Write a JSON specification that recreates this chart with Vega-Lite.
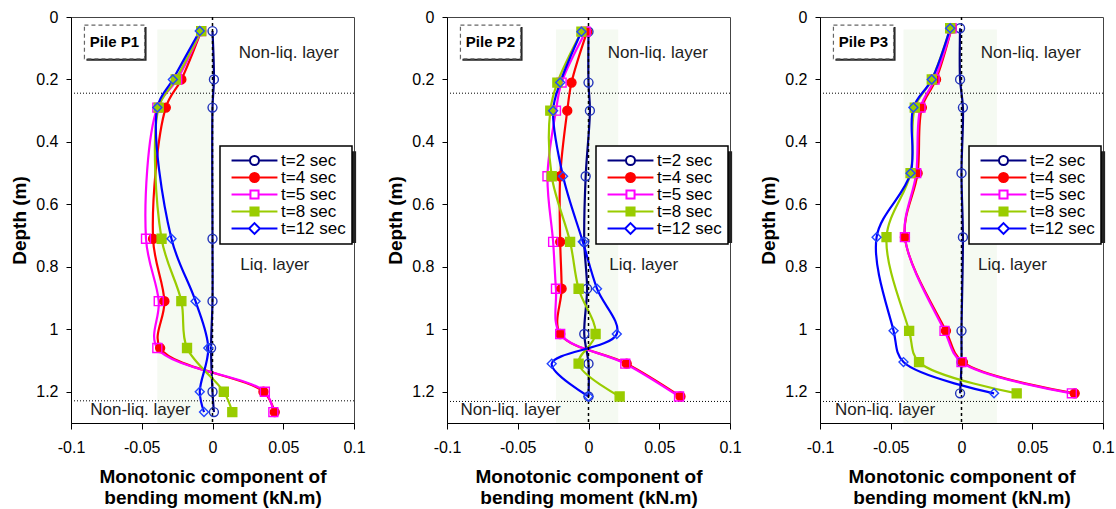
{
 "$schema": "https://vega.github.io/schema/vega-lite/v6.json",
 "padding": {"left": 10, "top": 8, "right": 0, "bottom": 0},
 "datasets": {"d": [
  {"pile":"P1","t":"t=2 sec","depth":0.045,"m":0},{"pile":"P1","t":"t=2 sec","depth":0.2,"m":0.001},{"pile":"P1","t":"t=2 sec","depth":0.29,"m":0},{"pile":"P1","t":"t=2 sec","depth":0.71,"m":0},{"pile":"P1","t":"t=2 sec","depth":0.91,"m":0},{"pile":"P1","t":"t=2 sec","depth":1.06,"m":-0.001},{"pile":"P1","t":"t=2 sec","depth":1.2,"m":0},{"pile":"P1","t":"t=2 sec","depth":1.265,"m":0.001},
  {"pile":"P1","t":"t=4 sec","depth":0.045,"m":-0.008},{"pile":"P1","t":"t=4 sec","depth":0.2,"m":-0.022},{"pile":"P1","t":"t=4 sec","depth":0.29,"m":-0.033},{"pile":"P1","t":"t=4 sec","depth":0.71,"m":-0.042},{"pile":"P1","t":"t=4 sec","depth":0.91,"m":-0.034},{"pile":"P1","t":"t=4 sec","depth":1.06,"m":-0.037},{"pile":"P1","t":"t=4 sec","depth":1.2,"m":0.036},{"pile":"P1","t":"t=4 sec","depth":1.265,"m":0.044},
  {"pile":"P1","t":"t=5 sec","depth":0.045,"m":-0.008},{"pile":"P1","t":"t=5 sec","depth":0.2,"m":-0.025},{"pile":"P1","t":"t=5 sec","depth":0.29,"m":-0.039},{"pile":"P1","t":"t=5 sec","depth":0.71,"m":-0.047},{"pile":"P1","t":"t=5 sec","depth":0.91,"m":-0.038},{"pile":"P1","t":"t=5 sec","depth":1.06,"m":-0.039},{"pile":"P1","t":"t=5 sec","depth":1.2,"m":0.037},{"pile":"P1","t":"t=5 sec","depth":1.265,"m":0.043},
  {"pile":"P1","t":"t=8 sec","depth":0.045,"m":-0.008},{"pile":"P1","t":"t=8 sec","depth":0.2,"m":-0.026},{"pile":"P1","t":"t=8 sec","depth":0.29,"m":-0.038},{"pile":"P1","t":"t=8 sec","depth":0.71,"m":-0.036},{"pile":"P1","t":"t=8 sec","depth":0.91,"m":-0.022},{"pile":"P1","t":"t=8 sec","depth":1.06,"m":-0.018},{"pile":"P1","t":"t=8 sec","depth":1.2,"m":0.008},{"pile":"P1","t":"t=8 sec","depth":1.265,"m":0.014},
  {"pile":"P1","t":"t=12 sec","depth":0.045,"m":-0.009},{"pile":"P1","t":"t=12 sec","depth":0.2,"m":-0.028},{"pile":"P1","t":"t=12 sec","depth":0.29,"m":-0.039},{"pile":"P1","t":"t=12 sec","depth":0.71,"m":-0.029},{"pile":"P1","t":"t=12 sec","depth":0.91,"m":-0.012},{"pile":"P1","t":"t=12 sec","depth":1.06,"m":-0.003},{"pile":"P1","t":"t=12 sec","depth":1.2,"m":-0.009},{"pile":"P1","t":"t=12 sec","depth":1.265,"m":-0.006},
  {"pile":"P2","t":"t=2 sec","depth":0.047,"m":0},{"pile":"P2","t":"t=2 sec","depth":0.21,"m":0},{"pile":"P2","t":"t=2 sec","depth":0.3,"m":0.001},{"pile":"P2","t":"t=2 sec","depth":0.51,"m":-0.002},{"pile":"P2","t":"t=2 sec","depth":0.72,"m":-0.003},{"pile":"P2","t":"t=2 sec","depth":0.87,"m":-0.001},{"pile":"P2","t":"t=2 sec","depth":1.015,"m":-0.003},{"pile":"P2","t":"t=2 sec","depth":1.11,"m":0},{"pile":"P2","t":"t=2 sec","depth":1.215,"m":0},
  {"pile":"P2","t":"t=4 sec","depth":0.047,"m":-0.001},{"pile":"P2","t":"t=4 sec","depth":0.21,"m":-0.012},{"pile":"P2","t":"t=4 sec","depth":0.3,"m":-0.015},{"pile":"P2","t":"t=4 sec","depth":0.51,"m":-0.02},{"pile":"P2","t":"t=4 sec","depth":0.72,"m":-0.02},{"pile":"P2","t":"t=4 sec","depth":0.87,"m":-0.019},{"pile":"P2","t":"t=4 sec","depth":1.015,"m":-0.02},{"pile":"P2","t":"t=4 sec","depth":1.11,"m":0.027},{"pile":"P2","t":"t=4 sec","depth":1.215,"m":0.065},
  {"pile":"P2","t":"t=5 sec","depth":0.047,"m":-0.002},{"pile":"P2","t":"t=5 sec","depth":0.21,"m":-0.019},{"pile":"P2","t":"t=5 sec","depth":0.3,"m":-0.023},{"pile":"P2","t":"t=5 sec","depth":0.51,"m":-0.029},{"pile":"P2","t":"t=5 sec","depth":0.72,"m":-0.025},{"pile":"P2","t":"t=5 sec","depth":0.87,"m":-0.023},{"pile":"P2","t":"t=5 sec","depth":1.015,"m":-0.02},{"pile":"P2","t":"t=5 sec","depth":1.11,"m":0.026},{"pile":"P2","t":"t=5 sec","depth":1.215,"m":0.064},
  {"pile":"P2","t":"t=8 sec","depth":0.047,"m":-0.005},{"pile":"P2","t":"t=8 sec","depth":0.21,"m":-0.022},{"pile":"P2","t":"t=8 sec","depth":0.3,"m":-0.027},{"pile":"P2","t":"t=8 sec","depth":0.51,"m":-0.026},{"pile":"P2","t":"t=8 sec","depth":0.72,"m":-0.013},{"pile":"P2","t":"t=8 sec","depth":0.87,"m":-0.007},{"pile":"P2","t":"t=8 sec","depth":1.015,"m":0.005},{"pile":"P2","t":"t=8 sec","depth":1.11,"m":-0.007},{"pile":"P2","t":"t=8 sec","depth":1.215,"m":0.022},
  {"pile":"P2","t":"t=12 sec","depth":0.047,"m":-0.005},{"pile":"P2","t":"t=12 sec","depth":0.21,"m":-0.02},{"pile":"P2","t":"t=12 sec","depth":0.3,"m":-0.025},{"pile":"P2","t":"t=12 sec","depth":0.51,"m":-0.018},{"pile":"P2","t":"t=12 sec","depth":0.72,"m":-0.004},{"pile":"P2","t":"t=12 sec","depth":0.87,"m":0.006},{"pile":"P2","t":"t=12 sec","depth":1.015,"m":0.02},{"pile":"P2","t":"t=12 sec","depth":1.11,"m":-0.026},{"pile":"P2","t":"t=12 sec","depth":1.215,"m":0},
  {"pile":"P3","t":"t=2 sec","depth":0.036,"m":-0.001},{"pile":"P3","t":"t=2 sec","depth":0.2,"m":-0.001},{"pile":"P3","t":"t=2 sec","depth":0.29,"m":0.001},{"pile":"P3","t":"t=2 sec","depth":0.5,"m":0},{"pile":"P3","t":"t=2 sec","depth":0.705,"m":0.001},{"pile":"P3","t":"t=2 sec","depth":1.005,"m":0},{"pile":"P3","t":"t=2 sec","depth":1.105,"m":0},{"pile":"P3","t":"t=2 sec","depth":1.205,"m":-0.001},
  {"pile":"P3","t":"t=4 sec","depth":0.036,"m":-0.007},{"pile":"P3","t":"t=4 sec","depth":0.2,"m":-0.018},{"pile":"P3","t":"t=4 sec","depth":0.29,"m":-0.028},{"pile":"P3","t":"t=4 sec","depth":0.5,"m":-0.031},{"pile":"P3","t":"t=4 sec","depth":0.705,"m":-0.04},{"pile":"P3","t":"t=4 sec","depth":1.005,"m":-0.011},{"pile":"P3","t":"t=4 sec","depth":1.105,"m":0.001},{"pile":"P3","t":"t=4 sec","depth":1.205,"m":0.08},
  {"pile":"P3","t":"t=5 sec","depth":0.036,"m":-0.007},{"pile":"P3","t":"t=5 sec","depth":0.2,"m":-0.019},{"pile":"P3","t":"t=5 sec","depth":0.29,"m":-0.029},{"pile":"P3","t":"t=5 sec","depth":0.5,"m":-0.032},{"pile":"P3","t":"t=5 sec","depth":0.705,"m":-0.04},{"pile":"P3","t":"t=5 sec","depth":1.005,"m":-0.012},{"pile":"P3","t":"t=5 sec","depth":1.105,"m":0},{"pile":"P3","t":"t=5 sec","depth":1.205,"m":0.078},
  {"pile":"P3","t":"t=8 sec","depth":0.036,"m":-0.008},{"pile":"P3","t":"t=8 sec","depth":0.2,"m":-0.021},{"pile":"P3","t":"t=8 sec","depth":0.29,"m":-0.033},{"pile":"P3","t":"t=8 sec","depth":0.5,"m":-0.036},{"pile":"P3","t":"t=8 sec","depth":0.705,"m":-0.053},{"pile":"P3","t":"t=8 sec","depth":1.005,"m":-0.037},{"pile":"P3","t":"t=8 sec","depth":1.105,"m":-0.03},{"pile":"P3","t":"t=8 sec","depth":1.205,"m":0.039},
  {"pile":"P3","t":"t=12 sec","depth":0.036,"m":-0.008},{"pile":"P3","t":"t=12 sec","depth":0.2,"m":-0.021},{"pile":"P3","t":"t=12 sec","depth":0.29,"m":-0.034},{"pile":"P3","t":"t=12 sec","depth":0.5,"m":-0.036},{"pile":"P3","t":"t=12 sec","depth":0.705,"m":-0.06},{"pile":"P3","t":"t=12 sec","depth":1.005,"m":-0.048},{"pile":"P3","t":"t=12 sec","depth":1.105,"m":-0.041},{"pile":"P3","t":"t=12 sec","depth":1.205,"m":0.023}
 ]},
 "spacing": 20,
 "resolve": {"scale": {"color": "independent"}},
 "hconcat": [
  {
   "width": 283, "height": 406,
   "layer": [
    {"data": {"values": [{}]}, "mark": {"type": "rect", "fill": "#f5faf2"},
     "encoding": {
      "x": {"datum": -0.039, "type": "quantitative", "scale": {"domain": [-0.1, 0.1], "nice": false, "zero": false}, "axis": {"values": [-0.1, -0.05, 0, 0.05, 0.1], "labelExpr": "'' + datum.value", "title": ["Monotonic component of", "bending moment (kN.m)"]}},
      "x2": {"datum": 0},
      "y": {"datum": 0.04, "type": "quantitative", "scale": {"domain": [0, 1.3], "nice": false, "zero": false, "reverse": true}, "axis": {"values": [0, 0.2, 0.4, 0.6, 0.8, 1, 1.2], "labelExpr": "'' + datum.value", "title": "Depth (m)"}},
      "y2": {"datum": 1.3}}},
    {"data": {"values": [{}]}, "mark": {"type": "rule", "color": "black", "strokeDash": [1, 2], "strokeWidth": 1}, "encoding": {"y": {"datum": 0.244}}},
    {"data": {"values": [{}]}, "mark": {"type": "rule", "color": "black", "strokeDash": [1, 2], "strokeWidth": 1}, "encoding": {"y": {"datum": 1.229}}},
    {"data": {"name": "d"}, "transform": [{"filter": "datum.pile == 'P1'"}],
     "mark": {"type": "line", "interpolate": "catmull-rom", "strokeWidth": 2.2},
     "encoding": {
      "x": {"field": "m", "type": "quantitative"},
      "y": {"field": "depth", "type": "quantitative"},
      "order": {"field": "depth", "type": "quantitative"},
      "color": {"field": "t", "type": "nominal", "sort": null,
       "scale": {"domain": ["t=2 sec", "t=4 sec", "t=5 sec", "t=8 sec", "t=12 sec"], "range": ["#000080", "#ff0000", "#ff00ff", "#99cc00", "#0000ff"]},
       "legend": {"orient": "none", "legendX": 149, "legendY": 129, "title": null, "fillColor": "white", "strokeColor": "black", "padding": 6,
        "labelFont": "Liberation Sans", "labelFontSize": 17, "labelColor": "black", "symbolSize": 81, "symbolStrokeWidth": 2, "symbolOffset": 20, "labelOffset": 18, "rowPadding": -1,
        "encode": {"legend": {"update": {"strokeWidth": {"value": 1.5}}},
         "symbols": {"update": {
          "shape": {"signal": "datum.value === 't=2 sec' ? 'M-5.1,0H-1M1,0H5.1M1,0A1,1 0 1,1 -1,0A1,1 0 1,1 1,0Z' : datum.value === 't=4 sec' ? 'M-5.1,0H5.1M1,0A1,1 0 1,1 -1,0A1,1 0 1,1 1,0Z' : datum.value === 't=5 sec' ? 'M-5.1,0H-0.9M0.9,0H5.1M-0.9,-0.9H0.9V0.9H-0.9Z' : datum.value === 't=8 sec' ? 'M-5.1,0H5.1M-0.9,-0.9H0.9V0.9H-0.9Z' : 'M-5.1,0H-1.2M1.2,0H5.1M0,-1.2L1.2,0L0,1.2L-1.2,0Z'"},
          "fill": {"signal": "datum.value === 't=4 sec' ? '#ff0000' : datum.value === 't=8 sec' ? '#99cc00' : 'white'"}}}}}}}},
    {"data": {"values": [{}]}, "mark": {"type": "rule", "color": "black", "strokeDash": [3, 3], "strokeWidth": 1.5}, "encoding": {"x": {"datum": 0}}},
    {"data": {"name": "d"}, "transform": [{"filter": "datum.pile == 'P1'"}],
     "mark": {"type": "point", "size": 80, "strokeWidth": 1.4, "opacity": 1},
     "encoding": {
      "x": {"field": "m", "type": "quantitative"},
      "y": {"field": "depth", "type": "quantitative"},
      "shape": {"field": "t", "type": "nominal", "scale": {"domain": ["t=2 sec", "t=4 sec", "t=5 sec", "t=8 sec", "t=12 sec"], "range": ["circle", "circle", "square", "square", "diamond"]}, "legend": null},
      "stroke": {"field": "t", "type": "nominal", "scale": {"domain": ["t=2 sec", "t=4 sec", "t=5 sec", "t=8 sec", "t=12 sec"], "range": ["#2233bb", "#ff0000", "#ff00ff", "#99cc00", "#2244ff"]}, "legend": null},
      "fill": {"field": "t", "type": "nominal", "scale": {"domain": ["t=2 sec", "t=4 sec", "t=5 sec", "t=8 sec", "t=12 sec"], "range": ["transparent", "#ff0000", "transparent", "#99cc00", "transparent"]}, "legend": null}}},
    {"data": {"values": [{}]}, "mark": {"type": "rect", "fill": "#222"}, "encoding": {"x": {"datum": 0.006}, "x2": {"datum": 0.1015}, "y": {"datum": 0.43}, "y2": {"datum": 0.7237}}},
    {"data": {"values": [{}]}, "mark": {"type": "rect", "fill": "#222"}, "encoding": {"x": {"datum": -0.0891}, "x2": {"datum": -0.0466}, "y": {"datum": 0.0324}, "y2": {"datum": 0.1404}}},
    {"data": {"values": [{}]}, "mark": {"type": "rect", "fill": "white", "stroke": "#666", "strokeDash": [4, 3], "strokeWidth": 1.2}, "encoding": {"x": {"datum": -0.0905}, "x2": {"datum": -0.048}, "y": {"datum": 0.026}, "y2": {"datum": 0.134}}},
    {"data": {"values": [{}]}, "mark": {"type": "text", "text": "Pile P1", "font": "Liberation Sans", "fontSize": 15, "fontWeight": "bold", "color": "black"}, "encoding": {"x": {"datum": -0.0693}, "y": {"datum": 0.08}}},
    {"data": {"values": [{}]}, "mark": {"type": "text", "text": "Non-liq. layer", "font": "Liberation Sans", "fontSize": 17, "color": "#222"}, "encoding": {"x": {"datum": 0.054}, "y": {"datum": 0.115}}},
    {"data": {"values": [{}]}, "mark": {"type": "text", "text": "Liq. layer", "font": "Liberation Sans", "fontSize": 17, "color": "#222"}, "encoding": {"x": {"datum": 0.044}, "y": {"datum": 0.794}}},
    {"data": {"values": [{}]}, "mark": {"type": "text", "text": "Non-liq. layer", "font": "Liberation Sans", "fontSize": 17, "color": "#222"}, "encoding": {"x": {"datum": -0.051}, "y": {"datum": 1.258}}}
   ]
  },
  {
   "spacing": 17,
   "resolve": {"scale": {"color": "independent"}},
   "hconcat": [
    {
     "width": 283, "height": 406,
     "layer": [
      {"data": {"values": [{}]}, "mark": {"type": "rect", "fill": "#f5faf2"},
       "encoding": {
        "x": {"datum": -0.023, "type": "quantitative", "scale": {"domain": [-0.1, 0.1], "nice": false, "zero": false}, "axis": {"values": [-0.1, -0.05, 0, 0.05, 0.1], "labelExpr": "'' + datum.value", "title": ["Monotonic component of", "bending moment (kN.m)"]}},
        "x2": {"datum": 0.021},
        "y": {"datum": 0.04, "type": "quantitative", "scale": {"domain": [0, 1.3], "nice": false, "zero": false, "reverse": true}, "axis": {"values": [0, 0.2, 0.4, 0.6, 0.8, 1, 1.2], "labelExpr": "'' + datum.value", "title": "Depth (m)"}},
        "y2": {"datum": 1.3}}},
      {"data": {"values": [{}]}, "mark": {"type": "rule", "color": "black", "strokeDash": [1, 2], "strokeWidth": 1}, "encoding": {"y": {"datum": 0.244}}},
      {"data": {"values": [{}]}, "mark": {"type": "rule", "color": "black", "strokeDash": [1, 2], "strokeWidth": 1}, "encoding": {"y": {"datum": 1.231}}},
      {"data": {"name": "d"}, "transform": [{"filter": "datum.pile == 'P2'"}],
       "mark": {"type": "line", "interpolate": "catmull-rom", "strokeWidth": 2.2},
       "encoding": {
        "x": {"field": "m", "type": "quantitative"},
        "y": {"field": "depth", "type": "quantitative"},
        "order": {"field": "depth", "type": "quantitative"},
        "color": {"field": "t", "type": "nominal", "sort": null,
         "scale": {"domain": ["t=2 sec", "t=4 sec", "t=5 sec", "t=8 sec", "t=12 sec"], "range": ["#000080", "#ff0000", "#ff00ff", "#99cc00", "#0000ff"]},
         "legend": {"orient": "none", "legendX": 149, "legendY": 129, "title": null, "fillColor": "white", "strokeColor": "black", "padding": 6,
          "labelFont": "Liberation Sans", "labelFontSize": 17, "labelColor": "black", "symbolSize": 81, "symbolStrokeWidth": 2, "symbolOffset": 20, "labelOffset": 18, "rowPadding": -1,
          "encode": {"legend": {"update": {"strokeWidth": {"value": 1.5}}},
           "symbols": {"update": {
            "shape": {"signal": "datum.value === 't=2 sec' ? 'M-5.1,0H-1M1,0H5.1M1,0A1,1 0 1,1 -1,0A1,1 0 1,1 1,0Z' : datum.value === 't=4 sec' ? 'M-5.1,0H5.1M1,0A1,1 0 1,1 -1,0A1,1 0 1,1 1,0Z' : datum.value === 't=5 sec' ? 'M-5.1,0H-0.9M0.9,0H5.1M-0.9,-0.9H0.9V0.9H-0.9Z' : datum.value === 't=8 sec' ? 'M-5.1,0H5.1M-0.9,-0.9H0.9V0.9H-0.9Z' : 'M-5.1,0H-1.2M1.2,0H5.1M0,-1.2L1.2,0L0,1.2L-1.2,0Z'"},
            "fill": {"signal": "datum.value === 't=4 sec' ? '#ff0000' : datum.value === 't=8 sec' ? '#99cc00' : 'white'"}}}}}}}},
      {"data": {"values": [{}]}, "mark": {"type": "rule", "color": "black", "strokeDash": [3, 3], "strokeWidth": 1.5}, "encoding": {"x": {"datum": 0}}},
      {"data": {"name": "d"}, "transform": [{"filter": "datum.pile == 'P2'"}],
       "mark": {"type": "point", "size": 80, "strokeWidth": 1.4, "opacity": 1},
       "encoding": {
        "x": {"field": "m", "type": "quantitative"},
        "y": {"field": "depth", "type": "quantitative"},
        "shape": {"field": "t", "type": "nominal", "scale": {"domain": ["t=2 sec", "t=4 sec", "t=5 sec", "t=8 sec", "t=12 sec"], "range": ["circle", "circle", "square", "square", "diamond"]}, "legend": null},
        "stroke": {"field": "t", "type": "nominal", "scale": {"domain": ["t=2 sec", "t=4 sec", "t=5 sec", "t=8 sec", "t=12 sec"], "range": ["#2233bb", "#ff0000", "#ff00ff", "#99cc00", "#2244ff"]}, "legend": null},
        "fill": {"field": "t", "type": "nominal", "scale": {"domain": ["t=2 sec", "t=4 sec", "t=5 sec", "t=8 sec", "t=12 sec"], "range": ["transparent", "#ff0000", "transparent", "#99cc00", "transparent"]}, "legend": null}}},
      {"data": {"values": [{}]}, "mark": {"type": "rect", "fill": "#222"}, "encoding": {"x": {"datum": 0.006}, "x2": {"datum": 0.1015}, "y": {"datum": 0.43}, "y2": {"datum": 0.7237}}},
      {"data": {"values": [{}]}, "mark": {"type": "rect", "fill": "#222"}, "encoding": {"x": {"datum": -0.0891}, "x2": {"datum": -0.0466}, "y": {"datum": 0.0324}, "y2": {"datum": 0.1404}}},
      {"data": {"values": [{}]}, "mark": {"type": "rect", "fill": "white", "stroke": "#666", "strokeDash": [4, 3], "strokeWidth": 1.2}, "encoding": {"x": {"datum": -0.0905}, "x2": {"datum": -0.048}, "y": {"datum": 0.026}, "y2": {"datum": 0.134}}},
      {"data": {"values": [{}]}, "mark": {"type": "text", "text": "Pile P2", "font": "Liberation Sans", "fontSize": 15, "fontWeight": "bold", "color": "black"}, "encoding": {"x": {"datum": -0.0693}, "y": {"datum": 0.08}}},
      {"data": {"values": [{}]}, "mark": {"type": "text", "text": "Non-liq. layer", "font": "Liberation Sans", "fontSize": 17, "color": "#222"}, "encoding": {"x": {"datum": 0.049}, "y": {"datum": 0.115}}},
      {"data": {"values": [{}]}, "mark": {"type": "text", "text": "Liq. layer", "font": "Liberation Sans", "fontSize": 17, "color": "#222"}, "encoding": {"x": {"datum": 0.039}, "y": {"datum": 0.794}}},
      {"data": {"values": [{}]}, "mark": {"type": "text", "text": "Non-liq. layer", "font": "Liberation Sans", "fontSize": 17, "color": "#222"}, "encoding": {"x": {"datum": -0.055}, "y": {"datum": 1.258}}}
     ]
    },
    {
     "width": 283, "height": 406,
     "layer": [
      {"data": {"values": [{}]}, "mark": {"type": "rect", "fill": "#f5faf2"},
       "encoding": {
        "x": {"datum": -0.041, "type": "quantitative", "scale": {"domain": [-0.1, 0.1], "nice": false, "zero": false}, "axis": {"values": [-0.1, -0.05, 0, 0.05, 0.1], "labelExpr": "'' + datum.value", "title": ["Monotonic component of", "bending moment (kN.m)"]}},
        "x2": {"datum": 0.025},
        "y": {"datum": 0.04, "type": "quantitative", "scale": {"domain": [0, 1.3], "nice": false, "zero": false, "reverse": true}, "axis": {"values": [0, 0.2, 0.4, 0.6, 0.8, 1, 1.2], "labelExpr": "'' + datum.value", "title": "Depth (m)"}},
        "y2": {"datum": 1.3}}},
      {"data": {"values": [{}]}, "mark": {"type": "rule", "color": "black", "strokeDash": [1, 2], "strokeWidth": 1}, "encoding": {"y": {"datum": 0.244}}},
      {"data": {"values": [{}]}, "mark": {"type": "rule", "color": "black", "strokeDash": [1, 2], "strokeWidth": 1}, "encoding": {"y": {"datum": 1.231}}},
      {"data": {"name": "d"}, "transform": [{"filter": "datum.pile == 'P3'"}],
       "mark": {"type": "line", "interpolate": "catmull-rom", "strokeWidth": 2.2},
       "encoding": {
        "x": {"field": "m", "type": "quantitative"},
        "y": {"field": "depth", "type": "quantitative"},
        "order": {"field": "depth", "type": "quantitative"},
        "color": {"field": "t", "type": "nominal", "sort": null,
         "scale": {"domain": ["t=2 sec", "t=4 sec", "t=5 sec", "t=8 sec", "t=12 sec"], "range": ["#000080", "#ff0000", "#ff00ff", "#99cc00", "#0000ff"]},
         "legend": {"orient": "none", "legendX": 149, "legendY": 129, "title": null, "fillColor": "white", "strokeColor": "black", "padding": 6,
          "labelFont": "Liberation Sans", "labelFontSize": 17, "labelColor": "black", "symbolSize": 81, "symbolStrokeWidth": 2, "symbolOffset": 20, "labelOffset": 18, "rowPadding": -1,
          "encode": {"legend": {"update": {"strokeWidth": {"value": 1.5}}},
           "symbols": {"update": {
            "shape": {"signal": "datum.value === 't=2 sec' ? 'M-5.1,0H-1M1,0H5.1M1,0A1,1 0 1,1 -1,0A1,1 0 1,1 1,0Z' : datum.value === 't=4 sec' ? 'M-5.1,0H5.1M1,0A1,1 0 1,1 -1,0A1,1 0 1,1 1,0Z' : datum.value === 't=5 sec' ? 'M-5.1,0H-0.9M0.9,0H5.1M-0.9,-0.9H0.9V0.9H-0.9Z' : datum.value === 't=8 sec' ? 'M-5.1,0H5.1M-0.9,-0.9H0.9V0.9H-0.9Z' : 'M-5.1,0H-1.2M1.2,0H5.1M0,-1.2L1.2,0L0,1.2L-1.2,0Z'"},
            "fill": {"signal": "datum.value === 't=4 sec' ? '#ff0000' : datum.value === 't=8 sec' ? '#99cc00' : 'white'"}}}}}}}},
      {"data": {"values": [{}]}, "mark": {"type": "rule", "color": "black", "strokeDash": [3, 3], "strokeWidth": 1.5}, "encoding": {"x": {"datum": 0}}},
      {"data": {"name": "d"}, "transform": [{"filter": "datum.pile == 'P3'"}],
       "mark": {"type": "point", "size": 80, "strokeWidth": 1.4, "opacity": 1},
       "encoding": {
        "x": {"field": "m", "type": "quantitative"},
        "y": {"field": "depth", "type": "quantitative"},
        "shape": {"field": "t", "type": "nominal", "scale": {"domain": ["t=2 sec", "t=4 sec", "t=5 sec", "t=8 sec", "t=12 sec"], "range": ["circle", "circle", "square", "square", "diamond"]}, "legend": null},
        "stroke": {"field": "t", "type": "nominal", "scale": {"domain": ["t=2 sec", "t=4 sec", "t=5 sec", "t=8 sec", "t=12 sec"], "range": ["#2233bb", "#ff0000", "#ff00ff", "#99cc00", "#2244ff"]}, "legend": null},
        "fill": {"field": "t", "type": "nominal", "scale": {"domain": ["t=2 sec", "t=4 sec", "t=5 sec", "t=8 sec", "t=12 sec"], "range": ["transparent", "#ff0000", "transparent", "#99cc00", "transparent"]}, "legend": null}}},
      {"data": {"values": [{}]}, "mark": {"type": "rect", "fill": "#222"}, "encoding": {"x": {"datum": 0.006}, "x2": {"datum": 0.1015}, "y": {"datum": 0.43}, "y2": {"datum": 0.7237}}},
      {"data": {"values": [{}]}, "mark": {"type": "rect", "fill": "#222"}, "encoding": {"x": {"datum": -0.0891}, "x2": {"datum": -0.0466}, "y": {"datum": 0.0324}, "y2": {"datum": 0.1404}}},
      {"data": {"values": [{}]}, "mark": {"type": "rect", "fill": "white", "stroke": "#666", "strokeDash": [4, 3], "strokeWidth": 1.2}, "encoding": {"x": {"datum": -0.0905}, "x2": {"datum": -0.048}, "y": {"datum": 0.026}, "y2": {"datum": 0.134}}},
      {"data": {"values": [{}]}, "mark": {"type": "text", "text": "Pile P3", "font": "Liberation Sans", "fontSize": 15, "fontWeight": "bold", "color": "black"}, "encoding": {"x": {"datum": -0.0693}, "y": {"datum": 0.08}}},
      {"data": {"values": [{}]}, "mark": {"type": "text", "text": "Non-liq. layer", "font": "Liberation Sans", "fontSize": 17, "color": "#222"}, "encoding": {"x": {"datum": 0.049}, "y": {"datum": 0.115}}},
      {"data": {"values": [{}]}, "mark": {"type": "text", "text": "Liq. layer", "font": "Liberation Sans", "fontSize": 17, "color": "#222"}, "encoding": {"x": {"datum": 0.036}, "y": {"datum": 0.794}}},
      {"data": {"values": [{}]}, "mark": {"type": "text", "text": "Non-liq. layer", "font": "Liberation Sans", "fontSize": 17, "color": "#222"}, "encoding": {"x": {"datum": -0.054}, "y": {"datum": 1.258}}}
     ]
    }
   ]
  }
 ],
 "config": {
  "font": "Liberation Sans",
  "view": {"stroke": "#444", "strokeWidth": 1},
  "axis": {"grid": false, "domainColor": "black", "tickColor": "black", "labelColor": "black", "titleColor": "black", "labelFont": "Liberation Sans", "titleFont": "Liberation Sans", "labelFontSize": 16, "titleFontSize": 19, "titleFontWeight": "bold", "labelFlush": false, "labelOverlap": false},
  "axisX": {"tickSize": 6, "labelPadding": 10, "titlePadding": 12, "titleLineHeight": 21},
  "axisY": {"tickSize": 5, "labelPadding": 8, "titlePadding": 6}
 }
}
